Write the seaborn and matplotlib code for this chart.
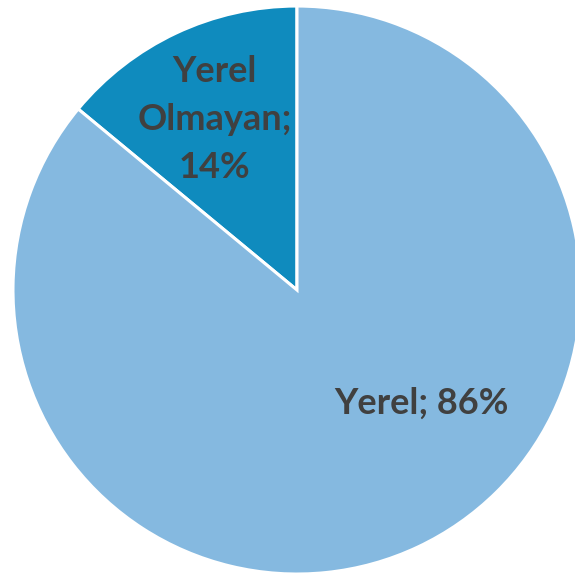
import matplotlib
matplotlib.use("Agg")
import matplotlib.pyplot as plt
import seaborn as sns

# slice data (order: counter-clockwise from 12 o'clock)
categories = ["Yerel Olmayan", "Yerel"]
shares = [14, 86]
label_texts = ["Yerel\nOlmayan;\n14%", "Yerel; 86%"]
slice_colors = ["#0F8BBE", "#85B9E0"]

sns.set_theme(style="white")
plt.rcParams['font.family'] = ['Lato', 'DejaVu Sans']

fig = plt.figure(figsize=(5.75, 5.75), dpi=100)
ax = fig.add_axes([0.0226, 0.0017, 0.9878, 0.9878])

wedges, _ = ax.pie(shares, colors=slice_colors, startangle=90, counterclock=True,
                   radius=1.0, wedgeprops=dict(edgecolor="white", linewidth=2.2))

# label positions in pie-radius units
label_pos = [(-0.29, 0.60), (0.44, -0.40)]
for txt, (x, y) in zip(label_texts, label_pos):
    ax.text(x, y, txt, ha="center", va="center", fontsize=26, fontweight="bold",
            color="#404040", linespacing=1.55)

ax.set_xlim(-1, 1)
ax.set_ylim(-1, 1)
ax.set_aspect("equal")
ax.axis("off")

fig.savefig("out.png", dpi=100)
